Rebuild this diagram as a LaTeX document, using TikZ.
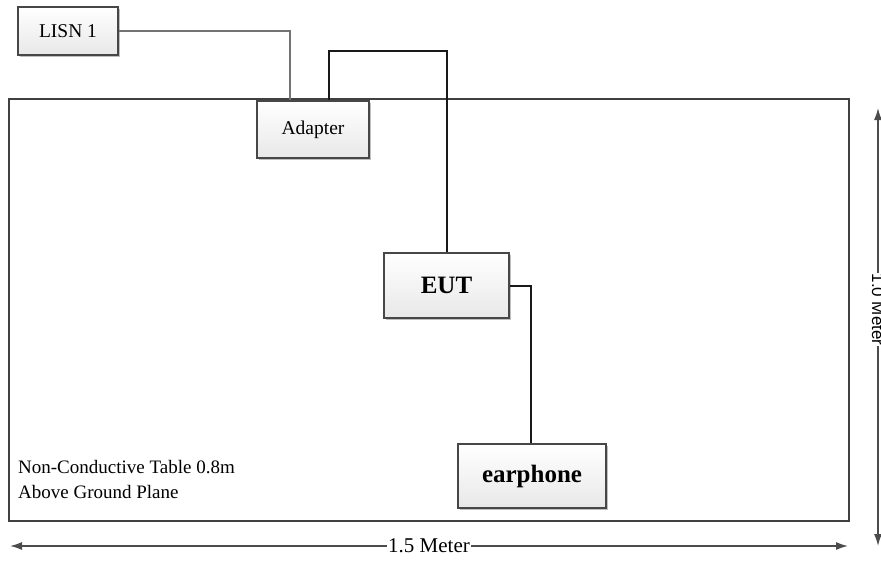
\documentclass[tikz,border=0pt]{standalone}
\usepackage{fontspec}
\setmainfont{Liberation Serif}
\newfontfamily\sansf{Liberation Sans}
\usetikzlibrary{shadows,arrows.meta}
\begin{document}
\begin{tikzpicture}[x=1pt,y=-1pt,
  box/.style={draw=black!72, line width=1.6pt, top color=white, bottom color=black!9,
    drop shadow={shadow xshift=1.5pt, shadow yshift=-1.5pt, opacity=0.25, fill=black},
    inner sep=0pt, font=\fontsize{19.5}{22}\selectfont},
  bbox/.style={box, font=\fontsize{25}{28}\selectfont\bfseries},
  wire/.style={line width=2pt, draw=black!90},
  dim/.style={line width=1.5pt, draw=black!70, {Latex[length=12pt,width=8pt]}-{Latex[length=12pt,width=8pt]}}]
\useasboundingbox (0,0) rectangle (881,563);
\node[draw=black!75, line width=2.4pt, minimum width=840pt, minimum height=422pt, inner sep=0pt] (table) at (429,310) {};
\node[box, minimum width=100pt, minimum height=48pt] (lisn) at (68,31) {LISN 1};
\node[box, minimum width=112pt, minimum height=57pt] (adapter) at (313,129.5) {Adapter};
\node[bbox, minimum width=125pt, minimum height=65pt] (eut) at (446.5,285.5) {EUT};
\node[bbox, minimum width=148pt, minimum height=64pt] (ear) at (532,476) {earphone};
\coordinate (c1) at (446.5,51);
\draw[wire, draw=black!55] (lisn.east) -| ([xshift=-23pt]adapter.north);
\draw[wire] ([xshift=16pt]adapter.north) |- (c1) -- (eut.north);
\draw[wire] (eut.east) -| ([xshift=-1pt]ear.north);
\node[anchor=north west, align=left, inner sep=0pt, font=\fontsize{19}{25}\selectfont] (note) at (18,460) {Non-Conductive Table 0.8m\\Above Ground Plane};
\coordinate (hl) at (10,546);
\coordinate (hr) at (848,546);
\draw[dim] (hl) -- (hr) node[pos=0.5, fill=white, inner sep=1pt, font=\fontsize{21}{24}\selectfont] (hlab) {1.5 Meter};
\coordinate (vt) at (878,108);
\coordinate (vb) at (878,546);
\draw[dim] (vt) -- (vb) node[pos=0.46, fill=white, inner sep=1pt, rotate=-90, font=\sansf\fontsize{17}{19}\selectfont] (vlab) {1.0 Meter};
\end{tikzpicture}
\end{document}
